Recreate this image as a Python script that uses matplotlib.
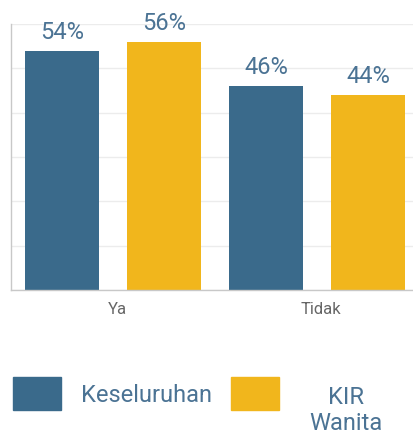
import numpy as np
import matplotlib
matplotlib.use("Agg")
import matplotlib.pyplot as plt
from matplotlib.patches import Rectangle

# Data
categories = ["Ya", "Tidak"]
series_names = ["Keseluruhan", "KIR\nWanita"]
keseluruhan = [54, 46]
kir_wanita = [56, 44]

colors = ["#3a6a8b", "#f1b61c"]
label_color = "#4b7394"

plt.rcParams['font.family'] = ['Roboto', 'DejaVu Sans']

fig = plt.figure(figsize=(4.13, 4.34), dpi=100)
ax = fig.add_axes([11/413, 1 - 290/434, 1 - 11/413, (290 - 24)/434])

x = np.arange(len(categories))
width = 0.363
offsets = [-0.25, 0.25]

for vals, off, col in zip([keseluruhan, kir_wanita], offsets, colors):
    bars = ax.bar(x + off, vals, width, color=col, zorder=2)
    for b, v in zip(bars, vals):
        ax.text(b.get_x() + b.get_width()/2, v + 2.7, f"{v}%", ha='center', va='baseline',
                fontsize=17, color=label_color)

ax.set_ylim(0, 60)
ax.set_xlim(-0.5, 1.47)
ax.set_yticks(np.arange(0, 61, 10))
ax.set_yticklabels([])
ax.tick_params(axis='y', length=0)
ax.set_xticks(x + 0.02)
ax.set_xticklabels(categories, fontsize=12, color="#666666")
ax.tick_params(axis='x', length=0, pad=9)
ax.grid(axis='y', color="#ececec", linewidth=1, zorder=0)
for s in ['top', 'right']:
    ax.spines[s].set_visible(False)
for s in ['left', 'bottom']:
    ax.spines[s].set_color("#c8c8c8")
    ax.spines[s].set_linewidth(1)

# Legend
sq_x = [13/413, 231/413]
for sx, col in zip(sq_x, colors):
    fig.add_artist(Rectangle((sx, 1 - 410/434), 48/413, 33/434, color=col,
                             transform=fig.transFigure))
fig.text(81/413, 1 - 402/434, series_names[0], ha='left', va='baseline',
         fontsize=17, color=label_color)
fig.text(346/413, 1 - 430/434, series_names[1], ha='center', va='baseline',
         fontsize=17, color=label_color, linespacing=1.15)

fig.savefig("out.png", dpi=100)
